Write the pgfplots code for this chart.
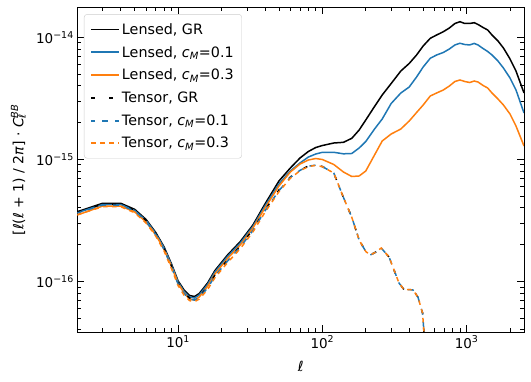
\documentclass[border=0pt]{standalone}
\usepackage{fontspec}
\setmainfont{DejaVu Sans}
\usepackage{pgfplots}
\pgfplotsset{compat=1.18}
\usepackage{pgfplotstable}

\definecolor{mplblue}{HTML}{1F77B4}
\definecolor{mplorange}{HTML}{FF7F0E}

% lensed BB spectra
\pgfplotstableread{
ell gr cm01 cm03
2 3.72e-16 3.65e-16 3.495e-16
3 4.36e-16 4.26e-16 4.14e-16
4 4.36e-16 4.26e-16 4.14e-16
5 3.89e-16 3.80e-16 3.70e-16
6 3.21e-16 3.15e-16 3.063e-16
7 2.51e-16 2.465e-16 2.397e-16
8 1.91e-16 1.875e-16 1.822e-16
9 1.386e-16 1.36e-16 1.322e-16
10 1.006e-16 9.87e-17 9.59e-17
11 8.49e-17 8.25e-17 8.02e-17
12 7.65e-17 7.43e-17 7.16e-17
13 7.51e-17 7.30e-17 7.03e-17
14 7.94e-17 7.72e-17 7.43e-17
16 9.68e-17 9.41e-17 9.07e-17
18 1.226e-16 1.192e-16 1.148e-16
22 1.643e-16 1.597e-16 1.538e-16
27 2.12e-16 2.06e-16 1.984e-16
33 2.893e-16 2.813e-16 2.734e-16
40 4.30e-16 4.14e-16 3.99e-16
50 6.64e-16 6.28e-16 6.04e-16
60 8.49e-16 8.02e-16 7.87e-16
70 1.025e-15 9.33e-16 9.15e-16
80 1.159e-15 1.044e-15 9.87e-16
90 1.249e-15 1.105e-15 1.015e-15
100 1.297e-15 1.141e-15 9.96e-16
120 1.360e-15 1.141e-15 9.07e-16
140 1.378e-15 1.109e-15 7.87e-16
160 1.486e-15 1.116e-15 7.23e-16
180 1.739e-15 1.238e-15 7.30e-16
200 2.10e-15 1.399e-15 8.02e-16
230 2.709e-15 1.771e-15 1.085e-15
260 3.366e-15 2.14e-15 1.413e-15
300 4.18e-15 2.867e-15 1.612e-15
350 5.293e-15 3.495e-15 1.771e-15
400 6.10e-15 3.913e-15 2.06e-15
450 7.16e-15 4.727e-15 2.418e-15
500 8.49e-15 5.71e-15 2.787e-15
560 9.81e-15 6.73e-15 3.303e-15
620 1.044e-14 7.16e-15 3.495e-15
690 1.111e-14 7.51e-15 3.70e-15
760 1.192e-14 8.02e-15 3.99e-15
830 1.297e-14 8.65e-15 4.343e-15
900 1.342e-14 8.93e-15 4.467e-15
970 1.297e-14 8.73e-15 4.343e-15
1050 1.297e-14 8.65e-15 4.26e-15
1130 1.317e-14 8.90e-15 4.38e-15
1200 1.273e-14 8.65e-15 4.30e-15
1300 1.203e-14 8.09e-15 4.03e-15
1400 1.148e-14 7.65e-15 3.84e-15
1500 1.044e-14 7.16e-15 3.495e-15
1650 9.33e-15 6.39e-15 3.12e-15
1800 8.17e-15 5.60e-15 2.787e-15
2000 6.64e-15 4.64e-15 2.35e-15
2200 5.293e-15 3.70e-15 1.875e-15
2500 3.495e-15 2.397e-15 1.285e-15
}\lensed

% tensor BB spectra
\pgfplotstableread{
ell gr cm01 cm03
2 3.70e-16 3.63e-16 3.52e-16
3 4.30e-16 4.22e-16 4.09e-16
4 4.30e-16 4.22e-16 4.09e-16
5 3.84e-16 3.76e-16 3.65e-16
6 3.15e-16 3.09e-16 3.00e-16
7 2.465e-16 2.42e-16 2.35e-16
8 1.857e-16 1.82e-16 1.77e-16
9 1.335e-16 1.31e-16 1.27e-16
10 9.68e-17 9.49e-17 9.22e-17
11 8.09e-17 7.93e-17 7.70e-17
12 7.30e-17 7.16e-17 6.95e-17
13 7.16e-17 7.02e-17 6.82e-17
14 7.51e-17 7.36e-17 7.15e-17
16 8.98e-17 8.80e-17 8.55e-17
18 1.126e-16 1.104e-16 1.072e-16
22 1.495e-16 1.465e-16 1.424e-16
27 1.947e-16 1.91e-16 1.855e-16
33 2.659e-16 2.61e-16 2.54e-16
40 3.84e-16 3.78e-16 3.68e-16
50 5.60e-16 5.53e-16 5.42e-16
60 7.16e-16 7.10e-16 7.00e-16
70 8.17e-16 8.12e-16 8.05e-16
80 8.81e-16 8.78e-16 8.72e-16
90 8.98e-16 8.96e-16 8.92e-16
100 8.73e-16 8.72e-16 8.70e-16
120 7.72e-16 7.72e-16 7.72e-16
140 4.87e-16 4.87e-16 4.87e-16
160 3.347e-16 3.347e-16 3.347e-16
180 2.18e-16 2.18e-16 2.18e-16
200 1.755e-16 1.755e-16 1.755e-16
215 1.643e-16 1.643e-16 1.643e-16
235 1.739e-16 1.739e-16 1.739e-16
256 1.875e-16 1.875e-16 1.875e-16
290 1.582e-16 1.582e-16 1.582e-16
340 9.68e-17 9.68e-17 9.68e-17
370 8.49e-17 8.49e-17 8.49e-17
400 8.56e-17 8.56e-17 8.56e-17
425 8.49e-17 8.49e-17 8.49e-17
460 7.43e-17 7.43e-17 7.43e-17
495 5.50e-17 5.50e-17 5.50e-17
505 3.99e-17 3.99e-17 3.99e-17
510 1e-18 1e-18 1e-18
}\tensor

\begin{document}
\begin{tikzpicture}
\begin{axis}[
  scale only axis,
  width=446.7pt, height=325pt,
  xmode=log, ymode=log,
  xmin=2, xmax=2500,
  ymin=3.82e-17, ymax=1.76e-14,
  axis line style={line width=0.8pt},
  tick align=inside,
  major tick length=7pt, minor tick length=4pt,
  every tick/.style={black, line width=0.8pt},
  xtick={10,100,1000},
  xticklabels={10\textsuperscript{1},10\textsuperscript{2},10\textsuperscript{3}},
  minor xtick={2,3,4,5,6,7,8,9,20,30,40,50,60,70,80,90,200,300,400,500,600,700,800,900,2000},
  ytick={1e-16,1e-15,1e-14},
  yticklabels={10\textsuperscript{−16},10\textsuperscript{−15},10\textsuperscript{−14}},
  minor ytick={4e-17,5e-17,6e-17,7e-17,8e-17,9e-17,2e-16,3e-16,4e-16,5e-16,6e-16,7e-16,8e-16,9e-16,2e-15,3e-15,4e-15,5e-15,6e-15,7e-15,8e-15,9e-15},
  ticklabel style={font=\fontsize{13.5}{16}\selectfont},
  xlabel={\textit{ℓ}},
  ylabel={[\textit{ℓ}(\textit{ℓ} + 1) / 2\textit{π}] · \textit{C}\makebox[0pt][l]{\textsubscript{\textit{ℓ}}}\textsuperscript{\textit{BB}}},
  label style={font=\fontsize{14}{16}\selectfont},
  xlabel style={at={(axis description cs:0.5,-0.1046)}, anchor=center},
  ylabel style={at={(axis description cs:-0.1321,0.5)}, anchor=center},
  legend style={
    at={(0.015,0.979)}, anchor=north west,
    draw=black!20, rounded corners=3pt,
    fill=white, fill opacity=0.8, text opacity=1,
    font=\fontsize{14.3}{17}\selectfont,
    row sep=6.5pt, inner xsep=6pt, inner ysep=7pt
  },
  legend cell align=left,
  legend image code/.code={\draw[#1] (0pt,0pt) -- (28pt,0pt);},
  legend image post style={line width=1.8pt, sharp corners},
]
\addplot[black, line width=1.5pt] table[x=ell, y=gr] {\lensed};
\addlegendentry{Lensed, GR}
\addplot[mplblue, line width=1.5pt] table[x=ell, y=cm01] {\lensed};
\addlegendentry{Lensed, \textit{c}\textsubscript{\textit{M}}=0.1}
\addplot[mplorange, line width=1.5pt] table[x=ell, y=cm03] {\lensed};
\addlegendentry{Lensed, \textit{c}\textsubscript{\textit{M}}=0.3}
\addplot[black, line width=1.5pt, dash pattern=on 4pt off 14pt] table[x=ell, y=gr] {\tensor};
\addlegendentry{Tensor, GR}
\addplot[mplblue, line width=1.5pt, dash pattern=on 6pt off 7pt, dash phase=2pt] table[x=ell, y=cm01] {\tensor};
\addlegendentry{Tensor, \textit{c}\textsubscript{\textit{M}}=0.1}
\addplot[mplorange, line width=1.5pt, dash pattern=on 4.5pt off 4.5pt] table[x=ell, y=cm03] {\tensor};
\addlegendentry{Tensor, \textit{c}\textsubscript{\textit{M}}=0.3}
\end{axis}
\pgfresetboundingbox
\path (current axis.south west) ++(-77.3pt,-48.7pt) rectangle ++(531pt,381pt);
\end{tikzpicture}
\end{document}
